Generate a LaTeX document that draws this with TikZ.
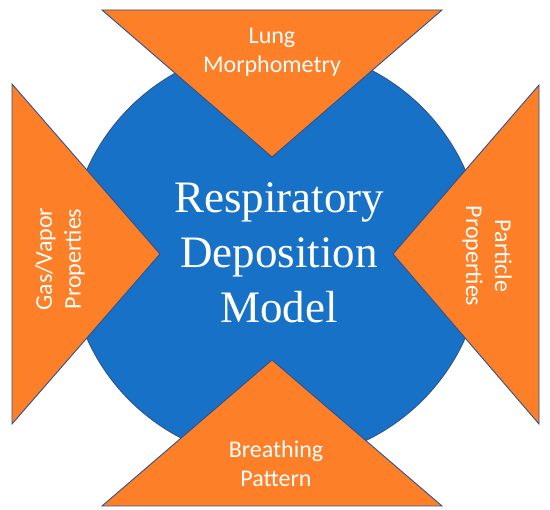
\documentclass[tikz,border=0pt]{standalone}
\usepackage{fontspec}
\setmainfont{Liberation Serif}
\newfontfamily\calib{Carlito}
\definecolor{cblue}{RGB}{23,114,199}
\definecolor{corange}{RGB}{253,127,39}
\definecolor{cedge}{RGB}{47,82,143}
\begin{document}
\begin{tikzpicture}[x=1pt,y=-1pt,
  tri/.style={fill=corange,draw=cedge,line width=0.9pt,line join=miter},
  small/.style={font=\calib\fontsize{24}{29}\selectfont,text=white,align=center,inner sep=0pt},
  big/.style={font=\fontsize{45}{55}\selectfont,text=white,align=center,inner sep=0pt}]
\useasboundingbox (0,0) rectangle (550,510);
\fill[white] (0,0) rectangle (550,510);
% circle
\draw[fill=cblue,draw=cedge,line width=0.9pt] (276,254) circle[radius=207];
% triangles
\draw[tri] (102,10) -- (442,10) -- (272,157) -- cycle;
\draw[tri] (102,506) -- (442,506) -- (272,360) -- cycle;
\draw[tri] (12,84) -- (12,424) -- (160,254) -- cycle;
\draw[tri] (539,85) -- (539,424) -- (393,254) -- cycle;
% texts
\node[big] (main) at (279,252.7) {Respiratory\\Deposition\\Model};
\node[small] (lung) at (272,52) {Lung\\Morphometry};
\node[small] (breath) at (276,464) {Breathing\\Pattern};
\node[small,rotate=90] (gas) at (60,259) {Gas/Vapor\\Properties};
\node[small,rotate=-90] (part) at (487,256) {Particle\\Properties};
\end{tikzpicture}
\end{document}
